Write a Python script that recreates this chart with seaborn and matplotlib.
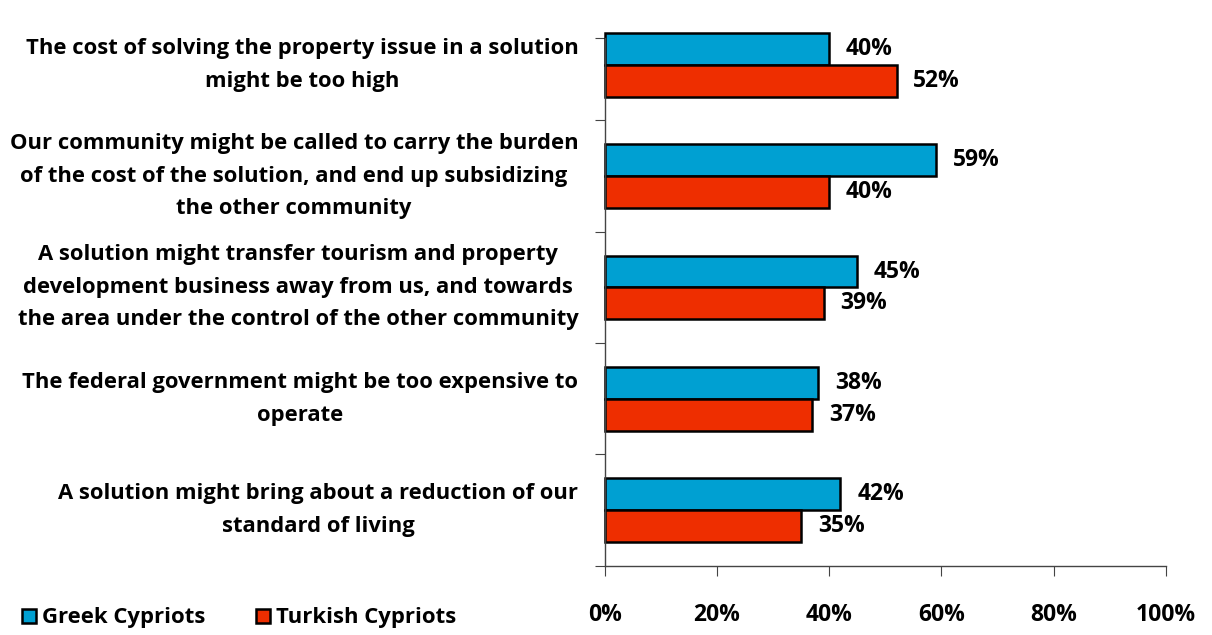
import numpy as np
import pandas as pd
import seaborn as sns
from matplotlib import pyplot as plt

categories = [
    "The cost of solving the property issue in a solution\nmight be too high",
    "Our community might be called to carry the burden\nof the cost of the solution, and end up subsidizing\nthe other community",
    "A solution might transfer tourism and property\ndevelopment business away from us, and towards\nthe area under the control of the other community",
    "The federal government might be too expensive to\noperate",
    "A solution might bring about a reduction of our\nstandard of living",
]
greek = [40, 59, 45, 38, 42]
turkish = [52, 40, 39, 37, 35]
groups = ["Greek Cypriots", "Turkish Cypriots"]
colors = ["#00A0D2", "#EE2E00"]

df = pd.DataFrame({
    "item": categories * 2,
    "pct": greek + turkish,
    "group": [groups[0]] * len(categories) + [groups[1]] * len(categories),
})

sns.set_style("white")
plt.rcParams["font.family"] = ["Open Sans", "DejaVu Sans"]
plt.rcParams["font.weight"] = "bold"
plt.rcParams["text.color"] = "black"
plt.rcParams["xtick.color"] = "black"
plt.rcParams["ytick.color"] = "black"

fig = plt.figure(figsize=(12.12, 6.35), dpi=100)
ax = fig.add_axes([0.499, 0.109, 0.463, 0.831])

sns.barplot(data=df, y="item", x="pct", hue="group", order=categories,
            hue_order=groups, palette=colors, width=0.57, orient="h",
            edgecolor="black", linewidth=1.8, saturation=1, ax=ax)

# value labels next to the bar ends
for cont in ax.containers:
    ax.bar_label(cont, labels=[f"{v:.0f}%" for v in cont.datavalues],
                 padding=12, fontsize=16.5, fontweight="bold", color="black")

ax.set_xlim(0, 100)
ax.set_ylim(4.5, -0.24)
ax.set_xticks(np.arange(0, 101, 20))
ax.set_xticklabels([f"{v}%" for v in range(0, 101, 20)], fontsize=16.5, fontweight="bold")
ax.tick_params(axis="x", bottom=True, direction="out", length=7, color="#444444", pad=20)

ax.set_yticks([-0.24, 0.5, 1.5, 2.5, 3.5, 4.5])
ax.set_yticklabels([])
ax.tick_params(axis="y", left=True, direction="out", length=7, color="#444444")
for i, lab in enumerate(categories):
    ax.text(-0.047, i, lab, transform=ax.get_yaxis_transform(), ha="right",
            va="center", multialignment="center", fontsize=15.8,
            fontweight="bold", linespacing=1.72, color="black")

ax.set_xlabel("")
ax.set_ylabel("")
for s in ["top", "right"]:
    ax.spines[s].set_visible(False)
for s in ["left", "bottom"]:
    ax.spines[s].set_color("#444444")
    ax.spines[s].set_linewidth(1.0)
for p in ax.patches:
    p.set_clip_on(False)

handles, labels = ax.get_legend_handles_labels()
ax.legend_.remove()
fig.legend(handles, labels, loc="center left", bbox_to_anchor=(0.002, 0.027),
           ncol=2, frameon=False, fontsize=15.9, handlelength=0.6,
           handleheight=0.6, handletextpad=0.3, columnspacing=2.3)

fig.savefig("out.png", dpi=100)
